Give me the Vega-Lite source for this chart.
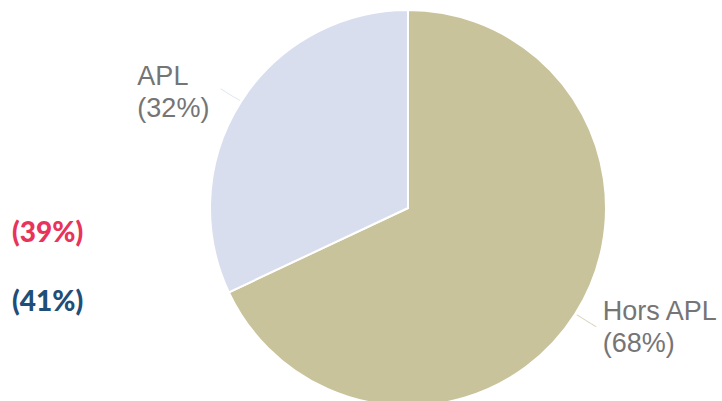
{
  "$schema": "https://vega.github.io/schema/vega-lite/v6.json",
  "width": 628,
  "height": 386,
  "autosize": {"type": "none"},
  "padding": {"left": 94, "top": 15, "right": 0, "bottom": 0},
  "background": "white",
  "view": {"stroke": null},
  "datasets": {
    "pie": [
      {"category": "Hors APL", "value": 68, "label": "Hors APL\n(68%)"},
      {"category": "APL", "value": 32, "label": "APL\n(32%)"}
    ],
    "side": [
      {"label": "(39%)", "group": "a"},
      {"label": "(41%)", "group": "b"}
    ]
  },
  "resolve": {"scale": {"color": "independent", "theta": "independent"}},
  "layer": [
    {
      "data": {"name": "pie"},
      "mark": {"type": "arc", "outerRadius": 198, "stroke": "white", "strokeWidth": 2},
      "encoding": {
        "theta": {"field": "value", "type": "quantitative", "stack": true},
        "order": {"field": "category", "sort": "descending"},
        "color": {"field": "category", "type": "nominal", "legend": null,
          "scale": {"domain": ["Hors APL", "APL"], "range": ["#C9C39B", "#D9DEEE"]}}
      }
    },
    {
      "data": {"name": "pie"},
      "mark": {"type": "text", "text": "────", "fontSize": 8, "fontWeight": "bold", "angle": 31.5, "radius": 211},
      "encoding": {
        "theta": {"field": "value", "type": "quantitative", "stack": true},
        "order": {"field": "category", "sort": "descending"},
        "color": {"field": "category", "type": "nominal", "legend": null,
          "scale": {"domain": ["Hors APL", "APL"], "range": ["#C9C39B", "#D9DEEE"]}}
      }
    },
    {
      "data": {"name": "pie"},
      "layer": [
        {
          "transform": [{"filter": "datum.category == 'APL'"}],
          "mark": {"type": "text", "radius": 240, "align": "left", "baseline": "middle", "lineBreak": "\n", "lineHeight": 32, "fontSize": 27, "font": "Liberation Sans", "color": "#757575", "dx": -68, "dy": -2},
          "encoding": {
            "theta": {"datum": 84, "type": "quantitative", "scale": {"domain": [0, 100]}},
            "text": {"field": "label", "type": "nominal"}
          }
        },
        {
          "transform": [{"filter": "datum.category == 'Hors APL'"}],
          "mark": {"type": "text", "radius": 240, "align": "left", "baseline": "middle", "lineBreak": "\n", "lineHeight": 32, "fontSize": 27, "font": "Liberation Sans", "color": "#757575", "dx": -8, "dy": -25},
          "encoding": {
            "theta": {"datum": 34, "type": "quantitative", "scale": {"domain": [0, 100]}},
            "text": {"field": "label", "type": "nominal"}
          }
        }
      ]
    },
    {
      "data": {"name": "side"},
      "mark": {"type": "text", "align": "left", "baseline": "middle", "fontSize": 28, "font": "Lato", "fontWeight": 900, "x": -82},
      "encoding": {
        "y": {"field": "label", "type": "nominal", "axis": null, "scale": {"type": "point", "padding": 0, "domain": ["(39%)", "(41%)"], "range": [219, 288]}},
        "text": {"field": "label", "type": "nominal"},
        "color": {"field": "group", "type": "nominal", "legend": null, "scale": {"domain": ["a", "b"], "range": ["#E8335A", "#1F4E79"]}}
      }
    }
  ]
}
